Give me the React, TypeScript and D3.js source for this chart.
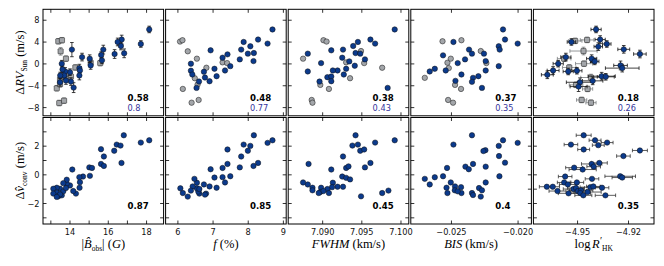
import { useEffect, useRef } from 'react';
import * as d3 from 'd3';

// top row: Delta RV_Sun vs indicator. blue = selected stars, grey = rest
// [x, y, yerr]
const BOBS_RV_BLUE = [
  [18.14, 6.31, 0.6], [17.7, 3.65, 0.6], [16.7, 4.46, 0.8], [16.49, 4.02, 0.7], [16.66, 3.28, 0.7],
  [16.83, 1.94, 0.8], [16.33, 1.81, 0.8], [15.74, 2.62, 0.8], [15.63, 1.62, 0.6], [15.67, 0.65, 0.6],
  [15.03, 0.96, 0.7], [15.08, -0.28, 0.7], [14.63, 1.25, 0.7], [14.1, 2.62, 1.3], [14.49, -0.77, 0.7],
  [14.52, -1.2, 0.7], [14.49, -2.12, 0.8], [14.19, -4.34, 0.9], [14.05, -3.23, 0.7], [14.0, -1.51, 0.6],
  [13.75, -1.38, 0.7], [13.7, -2.12, 0.7], [13.57, 0.04, 0.6], [13.49, -2.12, 0.6], [13.48, -3.36, 0.7],
  [13.79, -3.04, 0.7], [13.61, -1.0, 0.6],
];
const BOBS_RV_GREY = [
  [13.39, 4.15, 0.5], [13.58, 4.34, 0.5], [13.51, 2.31, 0.7], [13.79, 0.96, 0.5], [14.28, -0.65, 0.5],
  [15.08, 0.22, 0.5], [15.58, 0.15, 0.5], [13.31, -4.46, 0.5], [13.48, -3.73, 0.5], [13.79, -2.49, 0.6],
  [13.44, -7.16, 0.5], [13.69, -6.73, 0.5], [14.05, -2.3, 0.6], [13.48, -2.86, 0.5],
];

const FILL_RV_BLUE = [
  [8.69, 6.31], [8.55, 3.72], [8.28, 4.46], [8.06, 3.23], [7.87, 4.02], [7.8, 2.62], [7.99, 1.88],
  [8.16, 1.99], [8.15, 0.52], [7.76, 0.83], [7.41, 1.75], [7.27, 1.14], [7.49, -0.41], [7.34, -1.2],
  [7.1, -2.25], [7.04, -0.89], [6.93, 2.49], [6.9, -3.17], [6.77, -2.49], [6.74, -1.44], [6.6, -3.23],
  [6.53, -4.39], [6.37, 0.04], [6.37, -1.25], [6.41, -1.94],
];
const FILL_RV_GREY = [
  [6.06, 4.09], [6.13, 4.34], [6.28, 2.31], [6.54, 0.96], [6.81, -0.7], [7.27, 0.28], [7.4, 0.15],
  [6.14, -4.58], [6.56, -3.78], [6.48, -2.62], [6.39, -7.1], [6.59, -6.6],
];

const FWHM_RV_BLUE = [
  [7.0992, 6.31], [7.0961, 4.46], [7.0967, 3.72], [7.0945, 4.02], [7.0939, 3.28], [7.0942, 1.99],
  [7.0948, 1.88], [7.0926, 2.62], [7.0911, 2.49], [7.0925, 1.14], [7.0934, 0.46], [7.0954, 0.83],
  [7.0941, -0.33], [7.093, -0.89], [7.0919, -1.2], [7.0913, -1.2], [7.0927, -1.94], [7.0906, -2.43],
  [7.0911, -2.31], [7.0911, -3.17], [7.0896, -3.23], [7.0898, 0.15], [7.0881, 1.88], [7.0881, -1.38],
  [7.0983, -4.39],
];
const FWHM_RV_GREY = [
  [7.0901, 4.34], [7.0905, 4.09], [7.0949, 2.36], [7.093, 0.28], [7.0953, 0.15], [7.0976, -0.7],
  [7.0935, -2.62], [7.0897, -3.84], [7.0908, -4.58], [7.0886, -6.6], [7.0887, -7.1], [7.0875, 0.96],
];

const BIS_RV_BLUE = [
  [-0.02113, 6.31], [-0.02098, 4.46], [-0.02003, 3.72], [-0.02145, 3.23], [-0.02138, 2.62],
  [-0.02485, 4.02], [-0.02368, 2.62], [-0.02346, 1.88], [-0.02256, 1.88], [-0.02563, 1.57],
  [-0.02398, 0.83], [-0.02243, 0.52], [-0.02453, 0.15], [-0.02145, -0.41], [-0.02625, -0.89],
  [-0.02663, -1.38], [-0.02543, -1.2], [-0.02243, -1.2], [-0.02425, -1.94], [-0.02298, -2.25],
  [-0.02338, -2.55], [-0.02346, -3.28], [-0.0247, -3.1], [-0.02271, -4.39],
];
const BIS_RV_GREY = [
  [-0.027, -2.55], [-0.02567, 4.15], [-0.02425, 4.34], [-0.0253, 0.22], [-0.02505, 0.96],
  [-0.0252, -0.77], [-0.02473, -3.84], [-0.02428, -4.58], [-0.02525, -6.6], [-0.02488, -7.1],
  [-0.0228, 2.36], [-0.02238, 0.15],
];

// [x, y, xerr, yerr]
const RHK_RV_BLUE = [
  [-4.9391, 6.31, 0.003, 0.6], [-4.9536, 4.02, 0.0025, 0.6], [-4.9367, 4.46, 0.003, 0.7],
  [-4.9328, 3.65, 0.0025, 0.6], [-4.9378, 3.17, 0.0025, 0.7], [-4.9228, 2.67, 0.0035, 0.7],
  [-4.9133, 1.81, 0.0037, 0.7], [-4.9417, 0.96, 0.003, 0.7], [-4.9399, 0.46, 0.0025, 0.6],
  [-4.9569, 1.25, 0.003, 0.7], [-4.9614, 0.04, 0.003, 0.6], [-4.9644, -1.2, 0.0035, 0.7],
  [-4.9678, -1.99, 0.0035, 0.7], [-4.9555, -1.38, 0.003, 0.6], [-4.9504, -1.25, 0.003, 0.6],
  [-4.9247, -0.28, 0.004, 0.8], [-4.9237, -0.77, 0.0099, 0.7], [-4.9358, -2.25, 0.008, 0.7],
  [-4.9334, -2.36, 0.005, 0.6], [-4.9411, -3.1, 0.006, 0.7], [-4.9486, -3.36, 0.008, 0.8],
  [-4.9494, -4.15, 0.005, 0.9],
];
const RHK_RV_GREY = [
  [-4.9514, 4.21, 0.004, 0.5], [-4.9444, 4.39, 0.004, 0.5], [-4.9465, 2.36, 0.008, 0.7],
  [-4.9579, 0.96, 0.004, 0.5], [-4.9549, -0.65, 0.004, 0.5], [-4.9462, 0.04, 0.005, 0.5],
  [-4.9421, -2.49, 0.006, 0.6], [-4.9509, -3.84, 0.004, 0.5], [-4.9441, -4.58, 0.003, 0.5],
  [-4.9476, -6.6, 0.003, 0.5], [-4.9421, -7.1, 0.003, 0.5],
];

// bottom row: Delta v_conv vs indicator
const BOBS_CONV = [
  [18.14, 2.41], [17.7, 2.25], [16.81, 2.76], [16.44, 2.11], [16.64, 2.04], [16.31, 1.68], [16.69, 0.83],
  [15.62, 1.79], [15.77, 1.28], [15.62, 0.76], [15.77, 0.62], [15.01, 0.52], [15.15, 0.48], [15.04, -0.07],
  [14.12, 0.37], [14.68, -0.12], [14.49, -0.16], [14.52, -0.51], [14.5, -0.9], [14.31, -1.31],
  [14.17, -1.13], [14.0, -0.74], [13.83, -0.62], [13.83, -0.34], [13.65, -0.58], [13.48, -0.97],
  [13.31, -0.9], [13.13, -0.97], [13.31, -1.24], [13.13, -1.31], [13.39, -1.5], [13.57, -1.43],
  [13.65, -1.15], [13.48, -1.36], [13.31, -1.54], [13.79, -0.92],
];
const FILL_CONV = [
  [8.69, 2.41], [8.55, 2.23], [8.16, 2.76], [8.06, 2.02], [7.87, 2.11], [7.99, 1.68], [7.8, 1.28],
  [7.41, 1.77], [8.28, 0.83], [8.15, 0.62], [7.76, 0.52], [7.41, 0.76], [7.27, 0.48], [6.93, 0.39],
  [7.49, -0.1], [7.27, -0.16], [7.04, -0.19], [7.34, -0.53], [7.1, -0.9], [6.9, -0.81], [6.74, -0.67],
  [6.8, -1.31], [6.77, -1.38], [6.61, -1.31], [6.58, -1.17], [6.54, -0.94], [6.54, -0.55], [6.47, -0.28],
  [6.42, -0.81], [6.37, -1.1], [6.28, -1.52], [6.14, -1.27], [6.07, -0.94], [6.61, -0.99],
];
const FWHM_CONV = [
  [7.0992, 2.41], [7.0942, 2.76], [7.0938, 2.04], [7.0945, 2.11], [7.0948, 1.68], [7.0953, 1.77],
  [7.0967, 2.25], [7.0926, 1.28], [7.0882, 0.76], [7.0911, 0.37], [7.093, 0.48], [7.0933, 0.59],
  [7.0961, 0.83], [7.0954, 0.52], [7.0925, -0.12], [7.093, -0.21], [7.0935, -0.32], [7.0919, -0.83],
  [7.0926, -0.83], [7.0913, -0.55], [7.0912, -0.86], [7.0906, -0.99], [7.0908, -1.27], [7.0898, -0.9],
  [7.0897, -1.2], [7.0901, -1.13], [7.0895, -1.27], [7.0887, -0.9], [7.0887, -1.08], [7.0881, -0.67],
  [7.0875, -0.53], [7.0949, -1.5], [7.0976, -1.27], [7.0984, -1.1],
];
const BIS_CONV = [
  [-0.027, -0.28], [-0.02663, -0.67], [-0.02625, -0.17], [-0.02563, -0.1], [-0.02485, 2.11],
  [-0.02533, 0.48], [-0.02505, -0.53], [-0.02473, -0.81], [-0.02428, -0.86], [-0.02537, -0.9],
  [-0.0253, -1.27], [-0.02475, -1.08], [-0.02425, -1.27], [-0.02346, 2.76], [-0.02395, 0.57],
  [-0.0237, 0.39], [-0.02338, 0.76], [-0.02245, 1.72], [-0.0226, 1.66], [-0.02243, 0.57],
  [-0.02243, -0.53], [-0.02293, -0.92], [-0.02271, -1.08], [-0.02346, -1.27], [-0.02338, -1.41],
  [-0.0228, -1.52], [-0.02453, -1.15], [-0.02145, 2.02], [-0.02143, 1.31], [-0.0214, -0.1],
  [-0.02113, 2.41], [-0.02098, 0.85], [-0.02003, 2.23],
];
// [x, y, xerr]
const RHK_CONV = [
  [-4.9464, 2.76, 0.0044], [-4.9397, 2.41, 0.0035], [-4.9326, 2.25, 0.0035], [-4.9378, 2.07, 0.0035],
  [-4.9539, 2.11, 0.004], [-4.9464, 1.77, 0.0035], [-4.9133, 1.7, 0.0044], [-4.923, 1.31, 0.004],
  [-4.9372, 0.83, 0.0047], [-4.9417, 0.76, 0.006], [-4.9405, 0.57, 0.004], [-4.952, 0.5, 0.005],
  [-4.947, 0.37, 0.008], [-4.9249, -0.1, 0.009], [-4.9237, -0.19, 0.006], [-4.9415, -0.28, 0.004],
  [-4.9573, -0.12, 0.004], [-4.9579, -0.53, 0.004], [-4.9557, -0.67, 0.005], [-4.9504, -0.53, 0.004],
  [-4.9681, -0.83, 0.0044], [-4.9646, -0.83, 0.004], [-4.9618, -1.13, 0.005], [-4.9553, -1.29, 0.006],
  [-4.9524, -0.99, 0.006], [-4.9509, -0.92, 0.005], [-4.9498, -1.13, 0.005], [-4.948, -1.08, 0.007],
  [-4.9484, -1.27, 0.006], [-4.9466, -1.43, 0.005], [-4.9441, -1.2, 0.008], [-4.9425, -0.86, 0.006],
  [-4.9407, -0.81, 0.004], [-4.9356, -0.9, 0.004], [-4.9336, -1.43, 0.006],
];

const CORR_RV_ALL = ['0.58', '0.48', '0.38', '0.37', '0.18'];
const CORR_RV_BLUE = ['0.8', '0.77', '0.43', '0.35', '0.26'];
const CORR_CONV = ['0.87', '0.85', '0.45', '0.4', '0.35'];

const X_DOMAINS = [[12.59, 18.89], [5.65, 9.08], [7.0856, 7.101], [-0.02805, -0.019], [-4.976, -4.905]];
const X_TICKS = [[13, 14, 15, 16, 17, 18], [6, 7, 8, 9], [7.09, 7.095, 7.1], [-0.025, -0.02], [-4.95, -4.92]];
const X_TICK_LABELS = [['', '14', '', '16', '', '18'], ['6', '7', '8', '9'], ['7.090', '7.095', '7.100'], ['\u22120.025', '\u22120.020'], ['\u22124.95', '\u22124.92']];
const RV_DOMAIN = [-9.5, 10];
const RV_TICKS = [-8, -4, 0, 4, 8];
const CONV_DOMAIN = [-3.43, 4];
const CONV_TICKS = [-3, -2, -1, 0, 1, 2, 3];
const CONV_TICK_LABELS = ['', '\u22122', '', '0', '', '2', ''];

const BLUE = '#0b3a8c';
const GREY = '#a3a6aa';
const CORR2 = '#34349c';
const LEFT = 43, RIGHT = 654, TOP = 9.3, BOTTOM = 224, GX = 2, GY = 1.7;
const PW = (RIGHT - LEFT - 4 * GX) / 5;
const PH = (BOTTOM - TOP - GY) / 2;
const TICK = 3.5;
const MATH = "'Liberation Serif', 'DejaVu Serif', serif";
const SANS = "'DejaVu Sans', sans-serif";

type Pt = { x: number; y: number; ex?: number; ey?: number };

const PANELS = [
  {
    top: { blue: BOBS_RV_BLUE.map((d) => ({ x: d[0], y: d[1], ey: d[2] })), grey: BOBS_RV_GREY.map((d) => ({ x: d[0], y: d[1], ey: d[2] })), square: true },
    conv: BOBS_CONV.map((d) => ({ x: d[0], y: d[1] })),
  },
  {
    top: { blue: FILL_RV_BLUE.map((d) => ({ x: d[0], y: d[1] })), grey: FILL_RV_GREY.map((d) => ({ x: d[0], y: d[1] })), square: false },
    conv: FILL_CONV.map((d) => ({ x: d[0], y: d[1] })),
  },
  {
    top: { blue: FWHM_RV_BLUE.map((d) => ({ x: d[0], y: d[1] })), grey: FWHM_RV_GREY.map((d) => ({ x: d[0], y: d[1] })), square: false },
    conv: FWHM_CONV.map((d) => ({ x: d[0], y: d[1] })),
  },
  {
    top: { blue: BIS_RV_BLUE.map((d) => ({ x: d[0], y: d[1] })), grey: BIS_RV_GREY.map((d) => ({ x: d[0], y: d[1] })), square: false },
    conv: BIS_CONV.map((d) => ({ x: d[0], y: d[1] })),
  },
  {
    top: { blue: RHK_RV_BLUE.map((d) => ({ x: d[0], y: d[1], ex: d[2], ey: d[3] })), grey: RHK_RV_GREY.map((d) => ({ x: d[0], y: d[1], ex: d[2], ey: d[3] })), square: true },
    conv: RHK_CONV.map((d) => ({ x: d[0], y: d[1], ex: d[2] })),
  },
];

function colX(i: number) {
  return LEFT + i * (PW + GX);
}
function rowY(r: number) {
  return TOP + r * (PH + GY);
}

export default function App() {
  const gRef = useRef<SVGGElement>(null);

  useEffect(() => {
    const root = d3.select(gRef.current);
    root.selectAll('*').remove();

    const errorBars = (g: any, pts: Pt[], x: any, y: any, color: string) => {
      pts.forEach((d) => {
        if (d.ex) {
          const x1 = x(d.x - d.ex), x2 = x(d.x + d.ex), yy = y(d.y);
          g.append('line').attr('x1', x1).attr('x2', x2).attr('y1', yy).attr('y2', yy).attr('stroke', color).attr('stroke-width', 0.8);
          [x1, x2].forEach((cx) => g.append('line').attr('x1', cx).attr('x2', cx).attr('y1', yy - 1.8).attr('y2', yy + 1.8).attr('stroke', color).attr('stroke-width', 0.8));
        }
        if (d.ey) {
          const y1 = y(d.y - d.ey), y2 = y(d.y + d.ey), xx = x(d.x);
          g.append('line').attr('x1', xx).attr('x2', xx).attr('y1', y1).attr('y2', y2).attr('stroke', color).attr('stroke-width', 0.8);
          [y1, y2].forEach((cy) => g.append('line').attr('x1', xx - 1.8).attr('x2', xx + 1.8).attr('y1', cy).attr('y2', cy).attr('stroke', color).attr('stroke-width', 0.8));
        }
      });
    };

    const markers = (g: any, pts: Pt[], x: any, y: any, fill: string, square: boolean) => {
      if (square) {
        g.selectAll(null).data(pts).enter().append('rect')
          .attr('x', (d: Pt) => x(d.x) - 2.6).attr('y', (d: Pt) => y(d.y) - 2.6)
          .attr('width', 5.2).attr('height', 5.2).attr('rx', 0.6)
          .attr('fill', fill).attr('stroke', '#111').attr('stroke-width', 0.5);
      } else {
        g.selectAll(null).data(pts).enter().append('circle')
          .attr('cx', (d: Pt) => x(d.x)).attr('cy', (d: Pt) => y(d.y)).attr('r', 2.7)
          .attr('fill', fill).attr('stroke', '#111').attr('stroke-width', 0.5);
      }
    };

    PANELS.forEach((p, c) => {
      const x0 = colX(c);
      const x = d3.scaleLinear().domain(X_DOMAINS[c]).range([x0, x0 + PW]);

      [0, 1].forEach((r) => {
        const y0 = rowY(r);
        const y = d3.scaleLinear().domain(r === 0 ? RV_DOMAIN : CONV_DOMAIN).range([y0 + PH, y0]);
        const g = root.append('g');
        const clipId = `clip-${c}-${r}`;
        g.append('clipPath').attr('id', clipId).append('rect').attr('x', x0).attr('y', y0).attr('width', PW).attr('height', PH);
        const inner = g.append('g').attr('clip-path', `url(#${clipId})`);

        if (r === 0) {
          errorBars(inner, p.top.grey, x, y, '#7a7d80');
          markers(inner, p.top.grey, x, y, GREY, p.top.square);
          errorBars(inner, p.top.blue, x, y, '#111');
          markers(inner, p.top.blue, x, y, BLUE, false);
        } else {
          errorBars(inner, p.conv, x, y, '#333');
          markers(inner, p.conv, x, y, BLUE, false);
        }

        // frame
        g.append('rect').attr('x', x0).attr('y', y0).attr('width', PW).attr('height', PH)
          .attr('fill', 'none').attr('stroke', '#000').attr('stroke-width', 1);

        // x ticks, inward on both sides
        X_TICKS[c].forEach((t, i) => {
          const tx = x(t);
          g.append('line').attr('x1', tx).attr('x2', tx).attr('y1', y0 + PH).attr('y2', y0 + PH - TICK).attr('stroke', '#000').attr('stroke-width', 0.8);
          g.append('line').attr('x1', tx).attr('x2', tx).attr('y1', y0).attr('y2', y0 + TICK).attr('stroke', '#000').attr('stroke-width', 0.8);
          if (r === 1 && X_TICK_LABELS[c][i]) {
            g.append('text').attr('x', tx).attr('y', y0 + PH + 10.5).attr('text-anchor', 'middle')
              .attr('font-family', SANS).attr('font-size', 8.2).attr('fill', '#111').text(X_TICK_LABELS[c][i]);
          }
        });

        // y ticks
        const yt = r === 0 ? RV_TICKS : CONV_TICKS;
        yt.forEach((t, i) => {
          const ty = y(t);
          g.append('line').attr('x1', x0).attr('x2', x0 + TICK).attr('y1', ty).attr('y2', ty).attr('stroke', '#000').attr('stroke-width', 0.8);
          g.append('line').attr('x1', x0 + PW).attr('x2', x0 + PW - TICK).attr('y1', ty).attr('y2', ty).attr('stroke', '#000').attr('stroke-width', 0.8);
          const lab = r === 0 ? String(t).replace('-', '\u2212') : CONV_TICK_LABELS[i];
          if (c === 0 && lab) {
            g.append('text').attr('x', x0 - 3.5).attr('y', ty + 3).attr('text-anchor', 'end')
              .attr('font-family', SANS).attr('font-size', 8.2).attr('fill', '#111').text(lab);
          }
        });

        // correlation values
        const tx = x0 + 0.7 * PW;
        if (r === 0) {
          g.append('text').attr('x', tx).attr('y', y0 + PH - 15).attr('font-family', SANS).attr('font-size', 8.6)
            .attr('font-weight', 700).attr('fill', '#000').text(CORR_RV_ALL[c]);
          g.append('text').attr('x', tx).attr('y', y0 + PH - 5.2).attr('font-family', SANS).attr('font-size', 8.2)
            .attr('fill', CORR2).text(CORR_RV_BLUE[c]);
        } else {
          g.append('text').attr('x', tx).attr('y', y0 + PH - 15.3).attr('font-family', SANS).attr('font-size', 8.6)
            .attr('font-weight', 700).attr('fill', '#000').text(CORR_CONV[c]);
        }
      });
    });
  }, []);

  const cx = (i: number) => colX(i) + PW / 2;
  const xlabY = 248;
  const sub = 7.5;

  return (
    <svg width={664} height={266} style={{ display: 'block', position: 'absolute', left: 0, top: 0, background: '#fff' }}>
      <g ref={gRef} />
      <g fontFamily={MATH} fontSize={12.5} fill="#000" textAnchor="middle">
        {/* y labels */}
        <text transform={`translate(24,${rowY(0) + PH / 2}) rotate(-90)`}>
          <tspan>Δ</tspan>
          <tspan fontStyle="italic">RV</tspan>
          <tspan fontSize={sub} dy={2.5}>Sun</tspan>
          <tspan dy={-2.5}> (m/s)</tspan>
        </text>
        <text transform={`translate(24,${rowY(1) + PH / 2}) rotate(-90)`}>
          <tspan>Δ</tspan>
          <tspan fontStyle="italic">{'v\u0302'}</tspan>
          <tspan fontSize={sub} dy={2.5}>conv</tspan>
          <tspan dy={-2.5}> (m/s)</tspan>
        </text>

        {/* x labels */}
        <text x={cx(0)} y={xlabY}>
          <tspan>|</tspan>
          <tspan fontStyle="italic">{'B\u0302'}</tspan>
          <tspan fontSize={sub} dy={2.5}>obs</tspan>
          <tspan dy={-2.5}>| (</tspan>
          <tspan fontStyle="italic">G</tspan>
          <tspan>)</tspan>
        </text>
        <text x={cx(1)} y={xlabY}>
          <tspan fontStyle="italic">f</tspan>
          <tspan> (%)</tspan>
        </text>
        <text x={cx(2)} y={xlabY}>
          <tspan fontStyle="italic">FWHM</tspan>
          <tspan> (km/s)</tspan>
        </text>
        <text x={cx(3)} y={xlabY}>
          <tspan fontStyle="italic">BIS</tspan>
          <tspan> (km/s)</tspan>
        </text>
        <text x={cx(4)} y={xlabY}>
          <tspan>log</tspan>
          <tspan fontStyle="italic" dx={1.5}>R</tspan>
          <tspan fontSize={10} dy={-4.5} dx={0.3}>{'\u2032'}</tspan>
          <tspan fontSize={sub} dy={7}>HK</tspan>
        </text>
      </g>
    </svg>
  );
}
